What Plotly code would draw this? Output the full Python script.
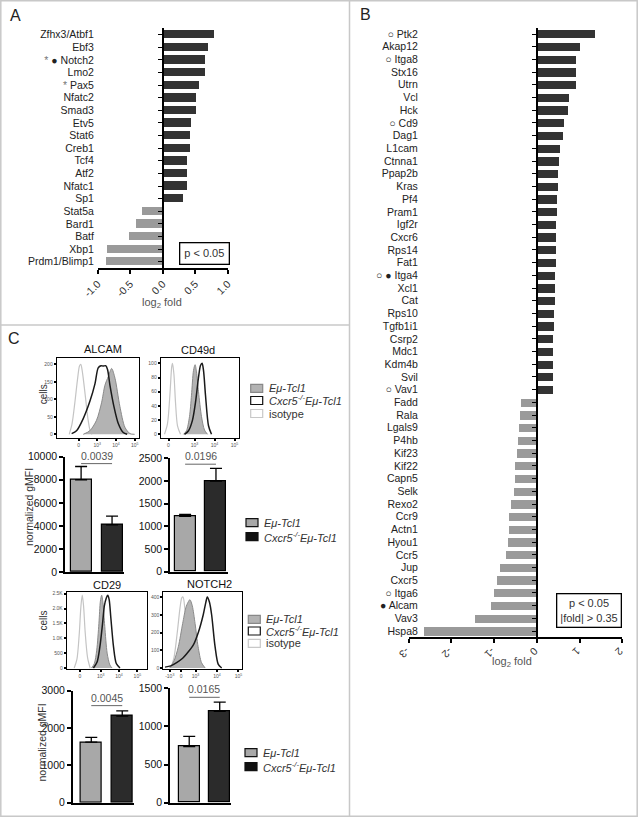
import plotly.graph_objects as go

W, H = 638, 817
FONT = "Liberation Sans, Arial, Helvetica, sans-serif"

# ---------------- Panel A data ----------------
genesA = ["Zfhx3/Atbf1", "Ebf3", "Notch2", "Lmo2", "Pax5", "Nfatc2", "Smad3", "Etv5", "Stat6",
          "Creb1", "Tcf4", "Atf2", "Nfatc1", "Sp1", "Stat5a", "Bard1", "Batf", "Xbp1", "Prdm1/Blimp1"]
foldA = [0.79, 0.69, 0.65, 0.64, 0.56, 0.51, 0.50, 0.43, 0.42, 0.41, 0.37, 0.37, 0.37, 0.30,
         -0.32, -0.42, -0.52, -0.86, -0.88]
markA = {"Notch2": "<span style='color:#777'>*</span> ● ", "Pax5": "<span style='color:#777'>*</span> "}
ticksA = [-1, -0.5, 0, 0.5, 1]
ticktextA = ["-1.0", "-0.5", "0.0", "0.5", "1.0"]

# ---------------- Panel B data ----------------
genesB = ["Ptk2", "Akap12", "Itga8", "Stx16", "Utrn", "Vcl", "Hck", "Cd9", "Dag1", "L1cam", "Ctnna1",
          "Ppap2b", "Kras", "Pf4", "Pram1", "Igf2r", "Cxcr6", "Rps14", "Fat1", "Itga4", "Xcl1", "Cat",
          "Rps10", "Tgfb1i1", "Csrp2", "Mdc1", "Kdm4b", "Svil", "Vav1",
          "Fadd", "Rala", "Lgals9", "P4hb", "Kif23", "Kif22", "Capn5", "Selk", "Rexo2", "Ccr9", "Actn1",
          "Hyou1", "Ccr5", "Jup", "Cxcr5", "Itga6", "Alcam", "Vav3", "Hspa8"]
foldB = [1.36, 1.00, 0.92, 0.90, 0.90, 0.75, 0.72, 0.63, 0.61, 0.54, 0.51, 0.49, 0.48, 0.47, 0.46,
         0.45, 0.44, 0.44, 0.43, 0.42, 0.41, 0.41, 0.40, 0.40, 0.38, 0.38, 0.38, 0.38, 0.37,
         -0.38, -0.41, -0.42, -0.44, -0.48, -0.51, -0.53, -0.55, -0.62, -0.65, -0.67, -0.68, -0.73,
         -0.88, -0.93, -1.01, -1.09, -1.46, -2.65]
markB = {"Ptk2": "○ ", "Itga8": "○ ", "Cd9": "○ ", "Itga4": "○ ● ", "Vav1": "○ ", "Itga6": "○ ", "Alcam": "● "}
ticksB = [-3, -2, -1, 0, 1, 2]

# ---------------- Panel C histogram data (decade positions, counts) ----------------
hist_titles = ["ALCAM", "CD49d", "CD29", "NOTCH2"]
alcam_iso_x = [1.5, 1.65, 1.8, 1.95, 2.05, 2.12, 2.2, 2.35, 2.5, 2.62, 2.72]
alcam_iso_y = [0, 30, 90, 160, 195, 200, 180, 115, 45, 10, 0]
alcam_tcl_x = [2.25, 2.6, 2.96, 3.23, 3.41, 3.59, 3.77, 3.95, 4.21, 4.48, 4.75, 5.0]
alcam_tcl_y = [0, 10, 40, 90, 140, 165, 188, 160, 80, 20, 2, 0]
alcam_ko_x = [1.63, 1.89, 2.25, 2.61, 2.88, 3.05, 3.2, 3.32, 3.45, 3.55, 3.68, 3.89, 4.13, 4.39, 4.6]
alcam_ko_y = [2, 10, 45, 95, 145, 190, 196, 195, 196, 185, 140, 80, 30, 5, 0]

cd49d_iso_x = [1.5, 1.65, 1.78, 1.86, 1.9, 1.97, 2.05, 2.15, 2.3]
cd49d_iso_y = [0, 15, 60, 95, 100, 85, 45, 12, 0]
cd49d_tcl_x = [2.45, 2.6, 2.75, 2.85, 2.95, 3.03, 3.1, 3.2, 3.35, 3.5, 3.65]
cd49d_tcl_y = [0, 5, 25, 55, 90, 98, 88, 60, 25, 6, 0]
cd49d_ko_x = [2.5, 2.7, 2.9, 3.05, 3.2, 3.3, 3.38, 3.45, 3.55, 3.7, 3.85]
cd49d_ko_y = [0, 5, 20, 45, 80, 97, 100, 90, 55, 12, 0]

cd29_iso_x = [1.55, 1.7, 1.82, 1.92, 1.99, 2.06, 2.15, 2.28, 2.42]
cd29_iso_y = [0, 300, 1100, 2100, 2450, 2100, 1200, 350, 0]
cd29_tcl_x = [2.5, 2.65, 2.78, 2.9, 2.98, 3.05, 3.12, 3.22, 3.35, 3.5, 3.62]
cd29_tcl_y = [0, 150, 600, 1500, 2250, 2450, 2200, 1400, 500, 100, 0]
cd29_ko_x = [2.6, 2.8, 2.95, 3.1, 3.2, 3.3, 3.38, 3.46, 3.55, 3.7, 3.85, 4.05]
cd29_ko_y = [0, 200, 700, 1500, 2100, 2350, 2450, 2300, 1700, 700, 150, 0]

notch2_iso_x = [1.85, 2.0, 2.15, 2.28, 2.36, 2.42, 2.5, 2.62, 2.78, 2.95]
notch2_iso_y = [0, 60, 200, 340, 395, 400, 340, 200, 60, 0]
notch2_tcl_x = [1.8, 2.0, 2.2, 2.4, 2.55, 2.65, 2.74, 2.85, 2.98, 3.12, 3.28, 3.45]
notch2_tcl_y = [0, 40, 120, 250, 340, 370, 385, 350, 250, 120, 30, 0]
notch2_ko_x = [1.58, 1.85, 2.12, 2.4, 2.59, 2.9, 3.13, 3.36, 3.48, 3.55, 3.65, 3.75, 3.91, 4.06, 4.22]
notch2_ko_y = [5, 12, 30, 55, 80, 130, 200, 300, 370, 400, 370, 300, 120, 20, 0]

# ---------------- Panel C bar data ----------------
gmfi_tcl1 = [8000, 1220, 1620, 737]
gmfi_ko = [4100, 2000, 2320, 1197]
sem_tcl1 = [1150, 45, 130, 133]
sem_ko = [750, 280, 140, 123]
pvals = ["0.0039", "0.0196", "0.0045", "0.0165"]
sig_y = [9400, 2370, 2600, 1382]
bar_ymax = [10000, 2500, 3000, 1500]
bar_ticks = [[0, 2000, 4000, 6000, 8000, 10000], [0, 500, 1000, 1500, 2000, 2500],
             [0, 1000, 2000, 3000], [0, 500, 1000, 1500]]


def dx(a, b):
    return [a / W, b / W]


def dy(top, bottom):
    return [1 - bottom / H, 1 - top / H]


fig = go.Figure()
layout = dict(width=W, height=H, margin=dict(l=0, r=0, t=0, b=0, pad=0, autoexpand=False), autosize=False,
              paper_bgcolor="white", plot_bgcolor="rgba(0,0,0,0)",
              font=dict(family=FONT, size=10.5, color="#222"), showlegend=False)

# ---------------- Panel A ----------------
fig.add_trace(go.Bar(x=foldA, y=genesA, orientation="h", width=0.66,
                     marker=dict(color=["#333333" if v > 0 else "#9a9a9a" for v in foldA], line_width=0),
                     xaxis="x", yaxis="y", hoverinfo="skip"))
layout["xaxis"] = dict(domain=dx(97.7, 227.7), range=[-1, 1], anchor="y", showline=True, linecolor="black",
                       linewidth=1.5, ticks="outside", ticklen=4, tickwidth=1.5, tickcolor="black",
                       tickvals=ticksA, ticktext=ticktextA, tickangle=-45, showgrid=False, zeroline=False,
                       automargin=False, tickfont=dict(size=10.5, color="#333"))
layout["yaxis"] = dict(domain=dy(28.4, 268), type="category", categoryorder="array", categoryarray=genesA,
                       range=[len(genesA) - 0.5, -0.5], anchor="free", position=162.7 / W, showline=True,
                       linecolor="black", linewidth=1.5, ticks="outside", ticklen=4, tickwidth=1.2,
                       tickcolor="black", tickvals=genesA, ticktext=[markA.get(g, "") + g for g in genesA],
                       ticklabelstandoff=62, showgrid=False, zeroline=False, automargin=False,
                       tickfont=dict(size=10.5, color="#222"))

# ---------------- Panel B ----------------
fig.add_trace(go.Bar(x=foldB, y=genesB, orientation="h", width=0.65,
                     marker=dict(color=["#333333" if v > 0 else "#9a9a9a" for v in foldB], line_width=0),
                     xaxis="x2", yaxis="y2", hoverinfo="skip"))
layout["xaxis2"] = dict(domain=dx(408.7, 622.3), range=[-3, 2], anchor="y2", showline=True, linecolor="black",
                        linewidth=1.5, ticks="outside", ticklen=4, tickwidth=1.5, tickcolor="black",
                        tickvals=ticksB, ticktext=[str(t) for t in ticksB], tickangle=135, showgrid=False,
                        zeroline=False, automargin=False, tickfont=dict(size=10.5, color="#333"))
layout["yaxis2"] = dict(domain=dy(27.65, 637.4), type="category", categoryorder="array", categoryarray=genesB,
                        range=[len(genesB) - 0.5, -0.5], anchor="free", position=536.7 / W, showline=True,
                        linecolor="black", linewidth=1.5, ticks="outside", ticklen=4, tickwidth=1.2,
                        tickcolor="black", tickvals=genesB, ticktext=[markB.get(g, "") + g for g in genesB],
                        ticklabelstandoff=112, showgrid=False, zeroline=False, automargin=False,
                        tickfont=dict(size=10.5, color="#222"))

# ---------------- Panel C histograms ----------------
hist_data = [
    (alcam_iso_x, alcam_iso_y, alcam_tcl_x, alcam_tcl_y, alcam_ko_x, alcam_ko_y),
    (cd49d_iso_x, cd49d_iso_y, cd49d_tcl_x, cd49d_tcl_y, cd49d_ko_x, cd49d_ko_y),
    (cd29_iso_x, cd29_iso_y, cd29_tcl_x, cd29_tcl_y, cd29_ko_x, cd29_ko_y),
    (notch2_iso_x, notch2_iso_y, notch2_tcl_x, notch2_tcl_y, notch2_ko_x, notch2_ko_y),
]
hist_dom_x = [(56.7, 139.3), (160.7, 238.7), (66.7, 146.5), (163.3, 241.7)]
hist_dom_y = [(357.7, 437.7), (357.7, 437.7), (592.3, 669.3), (592.3, 669.3)]
hist_xrange = [[0.83, 5.25], [1.31, 5.21], [1.14, 5.5], [1.5, 5.15]]
hist_yrange = [[-9.7, 218.9], [-4.8, 107.9], [-44, 2547], [-7.3, 426.5]]
hist_yticks = [([0, 50, 100, 150, 200], ["0", "50", "100", "150", "200"]),
               ([0, 20, 40, 60, 80, 100], ["0", "20", "40", "60", "80", "100"]),
               ([0, 500, 1000, 1500, 2000, 2500], ["0", "500", "1.0K", "1.5K", "2.0K", "2.5K"]),
               ([0, 100, 200, 300, 400], ["0", "100", "200", "300", "400"])]
hist_xticks = [([2, 3, 4, 5], ["0", "10<sup>3</sup>", "10<sup>4</sup>", "10<sup>5</sup>"]),
               ([1.7, 3, 4, 5], ["0", "10<sup>3</sup>", "10<sup>4</sup>", "10<sup>5</sup>"]),
               ([1.86, 3, 4, 5], ["0", "10<sup>3</sup>", "10<sup>4</sup>", "10<sup>5</sup>"]),
               ([1.8, 2.33, 3, 4, 5], ["-10<sup>3</sup>", "0", "10<sup>3</sup>", "10<sup>4</sup>", "10<sup>5</sup>"])]

for i, (ix, iy, tx, ty, kx, ky) in enumerate(hist_data):
    n = 3 + i
    xa, ya = f"x{n}", f"y{n}"
    fig.add_trace(go.Scatter(x=ix, y=iy, mode="lines", line=dict(color="#c4c4c4", width=1.2, shape="spline", smoothing=0.8),
                             xaxis=xa, yaxis=ya, hoverinfo="skip"))
    fig.add_trace(go.Scatter(x=tx, y=ty, mode="lines", fill="tozeroy", fillcolor="#b3b3b3",
                             line=dict(color="#8a8a8a", width=1, shape="spline", smoothing=0.8),
                             xaxis=xa, yaxis=ya, hoverinfo="skip"))
    fig.add_trace(go.Scatter(x=kx, y=ky, mode="lines", line=dict(color="#1a1a1a", width=1.5, shape="spline", smoothing=0.8),
                             xaxis=xa, yaxis=ya, hoverinfo="skip"))
    layout[f"xaxis{n}"] = dict(domain=dx(*hist_dom_x[i]), range=hist_xrange[i], anchor=ya, showline=True, mirror=True,
                               linecolor="black", linewidth=1, ticks="outside", ticklen=2, tickwidth=1.5,
                               tickcolor="black", tickvals=hist_xticks[i][0], ticktext=hist_xticks[i][1],
                               showgrid=False, zeroline=False, automargin=False, tickfont=dict(size=5, color="#555"))
    layout[f"yaxis{n}"] = dict(domain=dy(*hist_dom_y[i]), range=hist_yrange[i], anchor=xa, showline=True, mirror=True,
                               linecolor="black", linewidth=1, ticks="outside", ticklen=2, tickwidth=1.5,
                               tickcolor="black", tickvals=hist_yticks[i][0], ticktext=hist_yticks[i][1],
                               showgrid=False, zeroline=False, automargin=False, tickfont=dict(size=5, color="#555"))

# ---------------- Panel C bar charts ----------------
bar_dom_x = [(65, 123.5), (170, 228), (72.7, 134), (170, 231)]
bar_dom_y = [(456.7, 572), (458.3, 571.7), (690.7, 802.7), (688.3, 802.7)]
bar_xrange = [[-0.52, 1.37], [-0.49, 1.39], [-0.6, 1.38], [-0.63, 1.37]]
annotations = []
for i in range(4):
    n = 7 + i
    xa, ya = f"x{n}", f"y{n}"
    fig.add_trace(go.Bar(x=[0, 1], y=[gmfi_tcl1[i], gmfi_ko[i]], width=0.68,
                         marker=dict(color=["#a8a8a8", "#2b2b2b"], line=dict(color="black", width=1.2)),
                         error_y=dict(type="data", symmetric=False, array=[sem_tcl1[i], sem_ko[i]], arrayminus=[0, 0],
                                      color="black", thickness=1.3, width=6),
                         xaxis=xa, yaxis=ya, hoverinfo="skip"))
    fig.add_trace(go.Scatter(x=[0, 1], y=[sig_y[i], sig_y[i]], mode="lines", line=dict(color="#666", width=1),
                             cliponaxis=False, xaxis=xa, yaxis=ya, hoverinfo="skip"))
    annotations.append(dict(x=0.5, y=sig_y[i], xref=xa, yref=ya, text=pvals[i], showarrow=False, yanchor="bottom",
                            yshift=0, font=dict(size=10.5, color="#555")))
    layout[f"xaxis{n}"] = dict(domain=dx(*bar_dom_x[i]), range=bar_xrange[i], anchor=ya, showline=True,
                               linecolor="black", linewidth=1.5, showticklabels=False, ticks="", showgrid=False,
                               zeroline=False, automargin=False)
    layout[f"yaxis{n}"] = dict(domain=dy(*bar_dom_y[i]), range=[0, bar_ymax[i]], anchor=xa, showline=True,
                               linecolor="black", linewidth=1.5, ticks="outside", ticklen=4, tickwidth=1.5,
                               tickcolor="black", tickvals=bar_ticks[i], ticktext=[str(t) for t in bar_ticks[i]],
                               showgrid=False, zeroline=False, automargin=False,
                               tickfont=dict(size=10.5, color="#111"))


def pa(x, y, text, size=10.5, color="#222", xanchor="center", yanchor="middle", angle=0, **kw):
    annotations.append(dict(x=x / W, y=1 - y / H, xref="paper", yref="paper", text=text, showarrow=False,
                            xanchor=xanchor, yanchor=yanchor, textangle=angle,
                            font=dict(size=size, color=color, family=FONT), **kw))


# panel letters
pa(15.5, 15.5, "A", size=16, color="#222")
pa(365, 14.5, "B", size=16, color="#222")
pa(14, 338, "C", size=16, color="#222")

# axis titles
pa(162.2, 302.5, "log<sub>2</sub> fold", size=11, color="#555")
pa(511.7, 661.7, "log<sub>2</sub> fold", size=11, color="#555")

# p-value boxes
pa(204, 253, "p < 0.05", size=11, color="#333", bordercolor="black", borderwidth=1.3, borderpad=4)
pa(589.2, 610.5, "p < 0.05<br>|fold| > 0.35", size=11, color="#333", bordercolor="black", borderwidth=1.3,
   borderpad=3, align="center")

# histogram titles & y titles
hist_title_pos = [(103, 348.5), (198, 349.5), (106.7, 584.5), (209, 584)]
for t, (x, y) in zip(hist_titles, hist_title_pos):
    pa(x, y, t, size=11, color="#111")
pa(43.3, 394, "cells", size=10, color="#333", angle=-90)
pa(43, 620.5, "cells", size=10, color="#333", angle=-90)
pa(29, 507, "normalized gMFI", size=10.5, color="#333", angle=-90)
pa(41.5, 743, "normalized gMFI", size=10.5, color="#333", angle=-90)

# legends
shapes = []
lab_tcl = "<i>Eμ-Tcl1</i>"
lab_ko = "<i>Cxcr5<sup>-/-</sup>Eμ-Tcl1</i>"


def legend_item(x0, yc, fill, border, text, tx):
    shapes.append(dict(type="rect", xref="paper", yref="paper", x0=x0 / W, x1=(x0 + 12) / W,
                       y0=1 - (yc + 4) / H, y1=1 - (yc - 4) / H, fillcolor=fill, line=dict(color=border, width=1.2)))
    pa(tx, yc, text, size=11, color="#333", xanchor="left")


legend_item(250.7, 388.3, "#b3b3b3", "#888", lab_tcl, 267)
legend_item(250.7, 400.5, "white", "#111", lab_ko, 267)
legend_item(250.7, 413.5, "white", "#c8c8c8", "isotype", 267)
legend_item(246, 522.7, "#a8a8a8", "#111", lab_tcl, 262)
legend_item(246, 536.7, "#111", "#111", lab_ko, 262)
legend_item(248.3, 619.3, "#b3b3b3", "#888", lab_tcl, 264)
legend_item(248.3, 631, "white", "#111", lab_ko, 264)
legend_item(248.3, 643.3, "white", "#c8c8c8", "isotype", 264)
legend_item(245, 752.7, "#a8a8a8", "#111", lab_tcl, 261)
legend_item(245, 766.7, "#111", "#111", lab_ko, 261)

# frame & separators
gray = "#c8c8c8"
shapes.append(dict(type="rect", xref="paper", yref="paper", x0=0.8 / W, x1=1 - 0.8 / W, y0=0.8 / H, y1=1 - 0.8 / H,
                   line=dict(color=gray, width=1.5)))
shapes.append(dict(type="line", xref="paper", yref="paper", x0=349.5 / W, x1=349.5 / W, y0=0, y1=1,
                   line=dict(color=gray, width=1.5)))
shapes.append(dict(type="line", xref="paper", yref="paper", x0=0, x1=349.5 / W, y0=1 - 325 / H, y1=1 - 325 / H,
                   line=dict(color=gray, width=1.5)))

layout["annotations"] = annotations
layout["shapes"] = shapes
layout["bargap"] = 0
fig.update_layout(**layout)
fig.write_html("out.html", config={"displayModeBar": False},
               post_script="document.body.style.margin='0';document.body.style.padding='0';"
                           "document.body.style.overflow='hidden';")
